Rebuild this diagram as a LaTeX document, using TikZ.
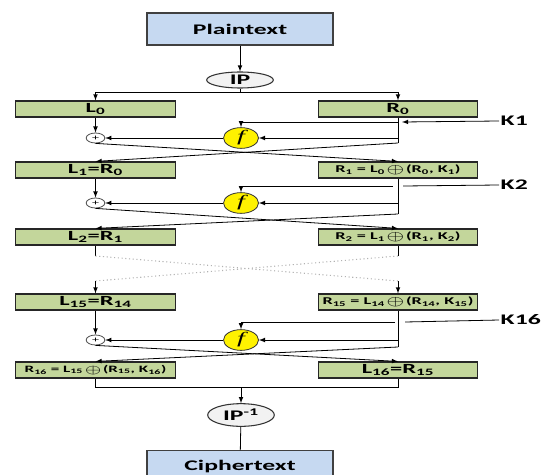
\documentclass[tikz,border=0pt]{standalone}
\usepackage{fontspec}
\usepackage{graphicx}
\setmainfont{Carlito}[FakeStretch=1.75]
\newfontfamily\ffont{Liberation Serif}[FakeStretch=1.75]
\usetikzlibrary{shapes.geometric}
\definecolor{boxgreen}{HTML}{C3D69B}
\definecolor{boxblue}{HTML}{C6D9F1}
\definecolor{ellgray}{HTML}{F2F2F2}
\newcommand{\xo}{\raisebox{-0.15ex}{\scalebox{2}[1.25]{$\oplus$}}}

\begin{document}
\begin{tikzpicture}[x = 0.75pt, y = -0.75pt, >=latex, line width = 0.6pt,
  halfbox/.style = {draw = black!85, line width = 0.9pt, fill = boxgreen, minimum width = 119.5pt, minimum height = 12pt, inner sep = 0pt, font = \bfseries\fontsize{10.5}{12}\selectfont},
  eqbox/.style = {halfbox, font = \bfseries\fontsize{7.8}{9}\selectfont},
  textbox/.style = {draw = black!75, line width = 1pt, fill = boxblue, minimum width = 139.5pt, minimum height = 24pt, font = \bfseries\fontsize{11}{13}\selectfont},
  permnode/.style = {ellipse, draw = black!80, line width = 0.8pt, fill = ellgray, minimum width = 50pt, inner sep = 0pt, font = \bfseries\fontsize{11}{13}\selectfont},
  xornode/.style = {ellipse, draw = black!70, fill = white, minimum width = 14pt, minimum height = 7.5pt, inner sep = 0pt, font = \fontsize{6}{6}\selectfont},
  fnode/.style = {ellipse, draw = black!80, fill = yellow, minimum width = 26.25pt, minimum height = 15pt, inner sep = 0pt, font = \fontsize{12}{12}\selectfont},
  keylbl/.style = {anchor = west, inner sep = 1pt, font = \bfseries\fontsize{11}{13}\selectfont}]
\useasboundingbox (0, 0) rectangle (541, 474);

\node[textbox] (plain) at (240, 29) {Plaintext};
\node[permnode, minimum height = 12pt] (ip) at (240, 80) {IP};
\coordinate (ipj) at (240, 92);
\node[halfbox] (l0) at (95.5, 109) {L\textsubscript{0}};
\node[halfbox] (r0) at (398, 109) {R\textsubscript{0}};
\draw[->] (plain) -- (ip);
\draw (ip) -- (ipj);
\draw[->] (ipj) -| (l0.north);
\draw[->] (ipj) -| (r0.north);

\node[xornode] (x1) at (95.5, 138) {+};
\node[fnode] (f1) at (241, 138) {\ffont\itshape f};
\node[keylbl] (k1) at (499, 121) {K1};
\coordinate (ka1) at (402, 122);
\coordinate (kb1) at (398, 122);
\coordinate (h1) at (398, 138);
\coordinate (v1) at (398, 143);
\node[halfbox] (l1) at (95.5, 170) {L\textsubscript{1}=R\textsubscript{0}};
\node[eqbox] (r1) at (398, 170) {R\textsubscript{1} = L\textsubscript{0}\,\xo\,(R\textsubscript{0}, K\textsubscript{1})};
\draw[->] (l0.south) -- (x1.north);
\draw (r0.south) -- (v1);
\draw[->] (h1) -- (f1);
\draw[->] (f1) -- (x1);
\draw[->] (k1.west) -- (ka1);
\draw[->] (kb1) -| (f1.north);
\draw[->] (x1.south) -- (r1.north);
\draw[->] (v1) -- (l1.north);

\node[xornode] (x2) at (95.5, 203) {+};
\node[fnode] (f2) at (241, 203) {\ffont\itshape f};
\node[keylbl] (k2) at (499, 185) {K2};
\coordinate (ka2) at (403, 186);
\coordinate (kb2) at (393, 186);
\coordinate (h2) at (398, 203);
\coordinate (v2) at (398, 214);
\node[halfbox] (l2) at (95.5, 237) {L\textsubscript{2}=R\textsubscript{1}};
\node[eqbox] (r2) at (398, 237) {R\textsubscript{2} = L\textsubscript{1}\,\xo\,(R\textsubscript{1}, K\textsubscript{2})};
\draw[->] (l1.south) -- (x2.north);
\draw (r1.south) -- (v2);
\draw[->] (h2) -- (f2);
\draw[->] (f2) -- (x2);
\draw (k2.west) -- (ka2);
\draw[->] (kb2) -| (f2.north);
\draw[->] (x2.south) -- (r2.north);
\draw[->] (v2) -- (l2.north);

\coordinate (da) at (95.5, 256);
\coordinate (db) at (398, 256);
\coordinate (dc) at (95.5, 281);
\coordinate (dd) at (398, 281);
\node[halfbox] (l15) at (95.5, 302) {L\textsubscript{15}=R\textsubscript{14}};
\node[eqbox] (r15) at (398, 302) {R\textsubscript{15} = L\textsubscript{14}\,\xo\,(R\textsubscript{14}, K\textsubscript{15})};
\draw (l2.south) -- (da);
\draw (r2.south) -- (db);
\draw[gray!60, dotted, line width = 0.8pt] (da) -- (dd);
\draw[gray!60, dotted, line width = 0.8pt] (db) -- (dc);
\draw[->] (dc) -- (l15.north);
\draw[->] (dd) -- (r15.north);

\node[xornode] (x16) at (95.5, 340) {+};
\node[fnode] (f16) at (241, 340) {\ffont\itshape f};
\node[keylbl] (k16) at (499, 320) {K16};
\coordinate (ka16) at (405, 322);
\coordinate (kb16) at (395, 322);
\coordinate (h16) at (398, 340);
\coordinate (v16) at (398, 347);
\node[eqbox, font = \bfseries\fontsize{7.3}{9}\selectfont] (r16) at (95.5, 370) {R\textsubscript{16} = L\textsubscript{15}\,\xo\,(R\textsubscript{15}, K\textsubscript{16})};
\node[halfbox] (l16) at (398, 370) {L\textsubscript{16}=R\textsubscript{15}};
\draw[->] (l15.south) -- (x16.north);
\draw (r15.south) -- (v16);
\draw[->] (h16) -- (f16);
\draw[->] (f16) -- (x16);
\draw (k16.west) -- (ka16);
\draw[->] (kb16) -| (f16.north);
\draw[->] (x16.south) -- (l16.north);
\draw[->] (v16) -- (r16.north);

\coordinate (oj) at (241, 387);
\node[permnode, minimum height = 17pt] (ipinv) at (241, 415) {IP\textsuperscript{-1}};
\node[textbox, anchor = north] (cipher) at (240, 450) {Ciphertext};
\draw (r16.south) |- (oj);
\draw (l16.south) |- (oj);
\draw[->] (oj) -- (ipinv);
\draw (ipinv) -- (cipher);
\end{tikzpicture}
\end{document}
